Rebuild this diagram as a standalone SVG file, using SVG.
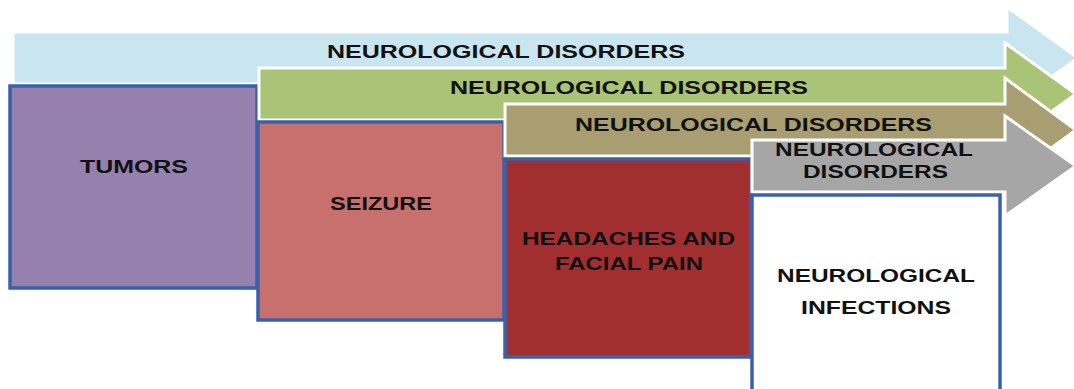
<svg xmlns="http://www.w3.org/2000/svg" width="1074" height="389" viewBox="0 0 1074 389">
<style>
.arrow{stroke:#ffffff;stroke-width:3;stroke-linejoin:miter}
.box{stroke:#3A60AA;stroke-width:3.5}
.t{font-family:"Liberation Sans","Arial",sans-serif;font-weight:bold;font-size:18px;fill:#111111}
</style>
<rect width="1074" height="389" fill="#ffffff"/>
<g id="connectors"></g>
<g id="arrow1">
<path class="arrow" fill="#C9E5EF" d="M13,32 H1007 V7 L1078,58 L1007,109 V84 H13 Z"/>
<text class="t" x="327" y="58" textLength="358" lengthAdjust="spacingAndGlyphs">NEUROLOGICAL DISORDERS</text>
</g>
<g id="tumors">
<rect class="box" x="10" y="86" width="247" height="202" fill="#9580AE"/>
<text class="t" x="80" y="173" textLength="108" lengthAdjust="spacingAndGlyphs">TUMORS</text>
</g>
<g id="arrow2">
<path class="arrow" fill="#A9C377" d="M259,68 H1005 V43 L1076,94 L1005,145 V120 H259 Z"/>
<text class="t" x="450" y="94" textLength="358" lengthAdjust="spacingAndGlyphs">NEUROLOGICAL DISORDERS</text>
</g>
<g id="seizure">
<rect class="box" x="258" y="122" width="246" height="198" fill="#C8706E"/>
<text class="t" x="330" y="210" textLength="102" lengthAdjust="spacingAndGlyphs">SEIZURE</text>
</g>
<g id="arrow3">
<path class="arrow" fill="#A89E71" d="M505,104 H1005 V78 L1076,130 L1005,182 V156 H505 Z"/>
<text class="t" x="575" y="131" textLength="357" lengthAdjust="spacingAndGlyphs">NEUROLOGICAL DISORDERS</text>
</g>
<g id="headaches">
<rect class="box" x="505" y="159" width="246" height="198" fill="#A22F30"/>
<text class="t" x="522" y="245" textLength="213" lengthAdjust="spacingAndGlyphs">HEADACHES AND</text>
<text class="t" x="555" y="270" textLength="148" lengthAdjust="spacingAndGlyphs">FACIAL PAIN</text>
</g>
<g id="arrow4">
<path class="arrow" fill="#A6A6A6" d="M752,140 H1005 V116 L1076,166 L1005,216 V192 H752 Z"/>
<text class="t" x="775" y="156" textLength="198" lengthAdjust="spacingAndGlyphs">NEUROLOGICAL</text>
<text class="t" x="803" y="178" textLength="145" lengthAdjust="spacingAndGlyphs">DISORDERS</text>
</g>
<g id="infections">
<rect class="box" x="752" y="195" width="248" height="205" fill="#ffffff"/>
<text class="t" x="777" y="282" textLength="198" lengthAdjust="spacingAndGlyphs">NEUROLOGICAL</text>
<text class="t" x="801" y="314" textLength="150" lengthAdjust="spacingAndGlyphs">INFECTIONS</text>
</g>
</svg>
